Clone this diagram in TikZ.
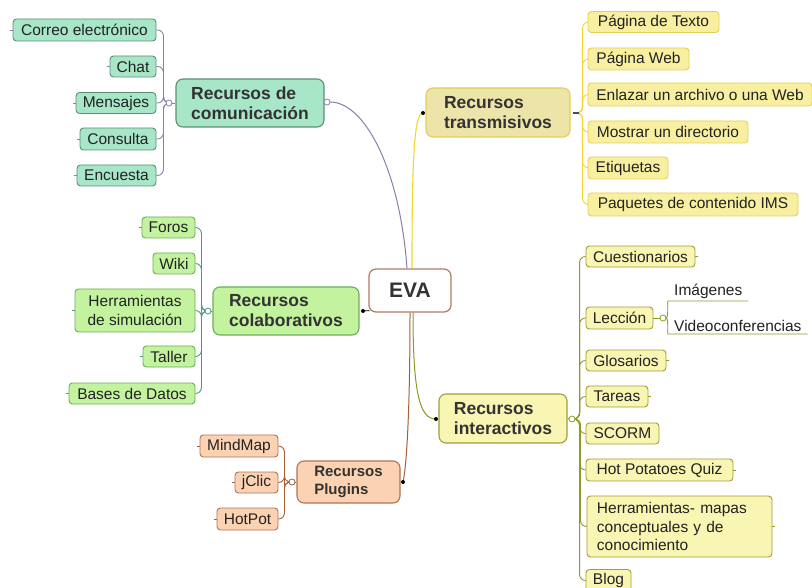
\documentclass[tikz,border=0pt]{standalone}
\usepackage{fontspec}
\setmainfont{Liberation Sans}
\usetikzlibrary{calc}
\newcommand\chfont{\fontsize{15.5}{18.5}\selectfont}
\newcommand\pafont{\bfseries\fontsize{17.5}{20}\selectfont}
\newcommand\plfont{\bfseries\fontsize{15}{18}\selectfont}
\newcommand\evfont{\bfseries\fontsize{21}{24}\selectfont}
\definecolor{txt}{HTML}{222222}
\definecolor{ptxt}{HTML}{333333}
\definecolor{cmF}{HTML}{A8E6C8}\definecolor{cmD}{HTML}{5E8E78}\definecolor{cmL}{HTML}{8A80A8}
\definecolor{trF}{HTML}{F8F0A0}\definecolor{trD}{HTML}{E4CE58}\definecolor{trP}{HTML}{ECE4A8}\definecolor{trL}{HTML}{F2D632}
\definecolor{coF}{HTML}{C4F3A0}\definecolor{coD}{HTML}{6CAE58}\definecolor{coL}{HTML}{4A9A80}
\definecolor{inF}{HTML}{F9F5B2}\definecolor{inD}{HTML}{9E9E3C}\definecolor{inL}{HTML}{8C9C22}
\definecolor{plF}{HTML}{FCD3B2}\definecolor{plD}{HTML}{B07258}\definecolor{plL}{HTML}{A0603A}
\definecolor{evD}{HTML}{B07A62}
\begin{document}
\begin{tikzpicture}[x=1pt,y=-1pt,
  cbox/.style={rounded corners=3.5pt,line width=0.9pt,inner sep=0pt,align=center,text=txt,font=\chfont},
  pbox/.style={rounded corners=7pt,line width=1.1pt,inner sep=0pt,align=left,text=ptxt,font=\pafont},
  sz/.style 2 args={minimum width=#1pt,minimum height=#2pt},
  cmbox/.style={cbox,fill=cmF,draw=cmD},
  trbox/.style={cbox,fill=trF,draw=trD},
  cobox/.style={cbox,fill=coF,draw=coD},
  inbox/.style={cbox,fill=inF,draw=inD},
  plbox/.style={cbox,fill=plF,draw=plD},
  lk/.style={line width=0.9pt},
  stub/.style={line width=0.7pt},
  hubc/.style={line width=0.8pt,fill=white},
]
\useasboundingbox (0,0) rectangle (812,588);
\fill[white] (0,0) rectangle (812,588);
\clip (0,0) rectangle (812,588);

% ---------- nodes ----------
\node[cbox,rounded corners=7pt,fill=white,draw=evD,line width=1.2pt,text=ptxt,font=\evfont,sz={82}{43}] (eva) at (410,290.5) {EVA};

\node[pbox,fill=cmF,draw=cmD,sz={148}{48}] (com) at (250,103) {Recursos de\\comunicación};
\node[cmbox,sz={143}{22}] (corr) at (84.5,30) {Correo electrónico};
\node[cmbox,sz={46}{21}] (chat) at (133,66.5) {Chat};
\node[cmbox,sz={80}{21}] (mens) at (116,103) {Mensajes};
\node[cmbox,sz={76}{22}] (cons) at (118,139) {Consulta};
\node[cmbox,sz={79}{21}] (encu) at (116.5,175.5) {Encuesta};

\node[pbox,fill=trP,draw=trD,sz={144}{49}] (tra) at (498,112.5) {Recursos\\transmisivos};
\node[trbox,sz={131}{21}] (ptex) at (653.5,22) {Página de Texto};
\node[trbox,sz={101}{22}] (pweb) at (638.5,59) {Página Web};
\node[trbox,sz={224}{23}] (enla) at (700,94.5) {Enlazar un archivo o una Web};
\node[trbox,sz={160}{22}] (most) at (668,132) {Mostrar un directorio};
\node[trbox,sz={80}{22}] (etiq) at (628,168) {Etiquetas};
\node[trbox,sz={210}{23}] (paqu) at (693,204.5) {Paquetes de contenido IMS};

\node[pbox,fill=coF,draw=coD,sz={146}{48}] (col) at (286,311) {Recursos\\colaborativos};
\node[cobox,sz={53}{21}] (foro) at (168.5,227.5) {Foros};
\node[cobox,sz={42}{21}] (wiki) at (174,263.5) {Wiki};
\node[cobox,sz={120}{43}] (hsim) at (135,310.5) {Herramientas\\de simulación};
\node[cobox,sz={52}{21}] (tall) at (169,356.5) {Taller};
\node[cobox,sz={126}{21}] (base) at (132,393.5) {Bases de Datos};

\node[pbox,fill=inF,draw=inD,sz={128}{49}] (int) at (503,418.5) {Recursos\\interactivos};
\node[inbox,sz={109}{21}] (cues) at (640.5,256.5) {Cuestionarios};
\node[inbox,sz={67}{22}] (lecc) at (619.5,318) {Lección};
\node[inbox,sz={80}{21}] (glos) at (626,360.5) {Glosarios};
\node[inbox,sz={62}{21}] (tare) at (617,396.5) {Tareas};
\node[inbox,sz={73}{21}] (scor) at (622.5,433.5) {SCORM};
\node[inbox,sz={147}{22}] (hotp) at (659.5,470) {Hot Potatoes Quiz};
\node[inbox,align=left,text width=165pt,inner xsep=10pt,minimum height=61pt,anchor=west] (hmap) at (586.5,526.5) {Herramientas- mapas\\conceptuales y de\\conocimiento};
\node[inbox,sz={45}{22}] (blog) at (608.5,580.5) {Blog};
\node[text=txt,font=\chfont,inner xsep=6pt,inner ysep=2pt,anchor=south west] (imag) at (668,301) {Imágenes};
\node[text=txt,font=\chfont,inner xsep=6pt,inner ysep=2pt,anchor=south west] (vide) at (668,334) {Videoconferencias};

\node[pbox,fill=plF,draw=plD,font=\plfont,sz={103}{42}] (plu) at (348.5,482) {Recursos\\Plugins};
\node[plbox,sz={78}{22}] (mind) at (239,446) {MindMap};
\node[plbox,sz={43}{21}] (jcli) at (256.5,482.5) {jClic};
\node[plbox,sz={61}{22}] (hpot) at (247.5,519) {HotPot};

% ---------- hub points ----------
\coordinate (hcm) at (169,103);
\coordinate (rcm) at (327,102);
\coordinate (htr) at (576,113);
\coordinate (dtr) at (423,113);
\coordinate (hco) at (208,311);
\coordinate (dco) at (363,311);
\coordinate (hin) at (572,419);
\coordinate (din) at (436,419);
\coordinate (hle) at (663,318);
\coordinate (hpl) at (292,482);
\coordinate (dpl) at (403,482);

% ---------- EVA connectors ----------
\draw[cmL,line width=1pt] ($(eva.north)+(-3,0)$) .. controls (400,170) and (365,102) .. ($(rcm)+(3,0)$);
\draw[trL,line width=1.1pt] ($(eva.north)+(2,0)$) .. controls (412,160) and (414,113) .. (dtr);
\draw[inL,line width=1pt] ($(eva.south)+(3,0)$) .. controls (413,395) and (420,419) .. (din);
\draw[plL,line width=1pt] (eva.south) .. controls (410,420) and (406,470) .. (dpl);
\draw[black,line width=0.8pt] (dco) -- ($(eva.south west)+(1,-2)$);

% ---------- branch connectors ----------
\foreach \n in {corr,chat,mens,cons,encu}
  \draw[cmL,lk,rounded corners=6pt] ($(hcm)+(-3,0)$) -| ($(\n.east)+(7,0)$) -- (\n.east);
\foreach \n in {ptex,pweb,enla,most,etiq,paqu}
  \draw[trL,lk,rounded corners=6pt] ($(htr)+(3,0)$) -| ($(\n.west)+(-5,0)$) -- (\n.west);
\foreach \n in {foro,wiki,hsim,tall,base}
  \draw[coL,lk,rounded corners=6pt] ($(hco)+(-3,0)$) -| ($(\n.east)+(6,0)$) -- (\n.east);
\foreach \n in {cues,lecc,glos,tare,scor,hotp,hmap,blog}
  \draw[inL,lk,rounded corners=6pt] ($(hin)+(3,0)$) -| ($(\n.west)+(-6,0)$) -- (\n.west);
\foreach \n in {mind,jcli,hpot}
  \draw[plL,lk,rounded corners=6pt] ($(hpl)+(-3,0)$) -| ($(\n.east)+(6,0)$) -- (\n.east);
\draw[cmL,lk] (com.east) -- (rcm);
\draw[cmL,lk] (com.west) -- (hcm);
\draw[coL,lk] (col.west) -- (hco);
\draw[inL,lk] (int.east) -- (hin);
\draw[plL,lk] (plu.west) -- (hpl);
\draw[inL,lk] (lecc.east) -- (hle);
% Lección sub-topics
\draw[inL,lk] ($(hle)+(3,0)$) .. controls (669,318) and (667,301) .. (imag.south west) -- (imag.south east);
\draw[inL,lk] ($(hle)+(3,0)$) .. controls (669,318) and (667,334) .. (vide.south west) -- (vide.south east);

% ---------- hub markers ----------
\draw[cmL,hubc] (hcm) circle (3pt);
\draw[cmL,hubc] (rcm) circle (3pt);
\draw[black!70,line width=1.3pt] ($(htr)+(-3,0)$) -- ($(htr)+(3,0)$);
\fill[black] (dtr) circle (2pt);
\draw[coL,hubc] (hco) circle (3pt);
\fill[black] (dco) circle (2pt);
\draw[inL,hubc] (hin) circle (3pt);
\fill[black] (din) circle (2pt);
\draw[inL,hubc] (hle) circle (3pt);
\draw[plL,hubc] (hpl) circle (3pt);
\fill[black] (dpl) circle (2pt);

% ---------- small stubs ----------
\foreach \n in {corr,chat,mens,cons,encu}
  \draw[cmL,stub] (\n.west) -- ++(-3,0);
\foreach \n in {foro,hsim,tall,base}
  \draw[coL,stub] (\n.west) -- ++(-3,0);
\foreach \n in {mind,jcli,hpot}
  \draw[plL,stub] (\n.west) -- ++(-3,0);
\foreach \n in {cues,glos,tare,hotp,hmap}
  \draw[inL,stub] (\n.east) -- ++(3,0);
\end{tikzpicture}
\end{document}
